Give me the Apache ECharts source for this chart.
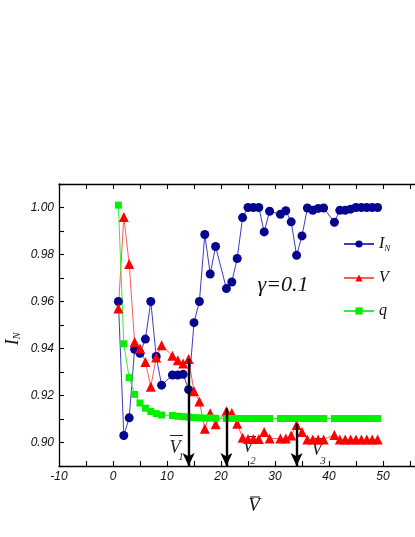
<!DOCTYPE html>
<html><head><meta charset="utf-8">
<script src="https://cdn.jsdelivr.net/npm/echarts@6/dist/echarts.min.js"></script>
<style>html,body{margin:0;padding:0;background:#fff}#c{width:415px;height:537px}</style>
</head><body><div id="c"></div>
<script>
// x positions (V-bar)
const xValues = [1,2,3,4,5,6,7,8,9, 11,12,13,14,15,16,17,18,19, 21,22,23,24,25,26,27,28,29, 31,32,33,34,35,36,37,38,39, 41,42,43,44,45,46,47,48,49];
// I_N series
const iN = [0.960,0.903,0.9105,0.9397,0.938,0.944,0.960,0.9366,0.9244,
            0.9287,0.9287,0.929,0.9225,0.951,0.960,0.9885,0.9717,0.9834,
            0.9655,0.9683,0.9783,0.9957,1.000,1.000,1.000,0.9896,0.9984,
            0.9971,0.9986,0.9939,0.9797,0.9879,0.9998,0.9988,0.9996,0.9998,
            0.9937,0.9988,0.9988,0.9993,1.000,1.000,1.000,1.000,1.000];
// V series
const vVals = [0.957,0.996,0.976,0.9428,0.940,0.9343,0.9237,0.9362,0.9414,
               0.9369,0.935,0.9336,0.9355,0.9218,0.9175,0.9058,0.9125,0.9078,
               0.9133,0.9126,0.908,0.902,0.9015,0.9015,0.9015,0.9045,0.9017,
               0.9017,0.9017,0.903,0.9075,0.9045,0.9013,0.9013,0.9013,0.9013,
               0.9032,0.9013,0.9013,0.9013,0.9013,0.9013,0.9013,0.9013,0.9013];
// q series
const qVals = [1.001,0.942,0.9276,0.9205,0.9168,0.9146,0.9132,0.9123,0.9117,
               0.9115,0.9112,0.911,0.9108,0.9106,0.9105,0.9104,0.9104,0.9103,
               0.9102,0.9102,0.9102,0.9102,0.9102,0.9102,0.9102,0.9102,0.9102,
               0.9102,0.9102,0.9102,0.9102,0.9102,0.9102,0.9102,0.9102,0.9102,
               0.9102,0.9102,0.9102,0.9102,0.9102,0.9102,0.9102,0.9102,0.9102];
const xTickLabels = [-10,0,10,20,30,40,50];
const yTickLabels = ['0.90','0.92','0.94','0.96','0.98','1.00'];
const arrowX = [14,21,34];
const arrowTop = [0.9355,0.9145,0.908];

const pairs = ys => xValues.map((x,i)=>[x, ys[i]]);
const serif = 'Liberation Serif';
const ink = '#111';

const axisLine = {show:true, onZero:false, lineStyle:{color:'#000', width:1.3}};
const axisTick = {show:true, inside:true, length:5, lineStyle:{color:'#000', width:1.1}};

const chart = echarts.init(document.getElementById('c'), null, {renderer:'canvas'});
chart.setOption({
  animation:false,
  backgroundColor:'#fff',
  grid:{left:59, top:184, width:378, height:282, containLabel:false, outerBoundsMode:'none'},
  xAxis:[
    {type:'value', min:-10, max:60, interval:5, position:'bottom', axisLine, axisTick,
     splitLine:{show:false},
     axisLabel:{margin:5, color:ink, fontStyle:'italic', fontFamily:'Liberation Sans', fontSize:12,
       formatter:v => xTickLabels.includes(Math.round(v)) ? String(Math.round(v)) : ''}},
    {type:'value', min:-10, max:60, interval:5, position:'top', axisLine, axisTick,
     splitLine:{show:false}, axisLabel:{show:false}}
  ],
  yAxis:[
    {type:'value', min:0.89, max:1.01, interval:0.01, position:'left', axisLine, axisTick,
     splitLine:{show:false},
     axisLabel:{margin:5, color:ink, fontStyle:'italic', fontFamily:'Liberation Sans', fontSize:12,
       formatter:v => { const s = v.toFixed(2); return yTickLabels.includes(s) ? s : ''; }}}
  ],
  legend:{
    orient:'vertical', left:343, top:236, padding:0, itemWidth:30, itemHeight:9, itemGap:17,
    data:['I_N','V','q'],
    formatter:n => n==='I_N' ? '{i|I}{s|N}' : '{i|'+n+'}',
    textStyle:{rich:{
      i:{fontFamily:serif, fontStyle:'italic', fontSize:16, color:ink},
      s:{fontFamily:serif, fontStyle:'italic', fontSize:9, color:ink, padding:[9,0,0,0]}
    }}
  },
  series:[
    {name:'I_N', type:'line', data:pairs(iN), symbol:'circle', symbolSize:9,
     lineStyle:{color:'#3d3dc4', width:1}, itemStyle:{color:'#050590'}},
    {name:'V', type:'line', data:pairs(vVals), symbol:'triangle', symbolSize:10,
     lineStyle:{color:'#ff5a5a', width:1}, itemStyle:{color:'#ff0000'}},
    {name:'q', type:'line', data:pairs(qVals), symbol:'rect', symbolSize:7,
     lineStyle:{color:'#33ee33', width:1}, itemStyle:{color:'#00f000'}},
    {name:'arrows', type:'line', data:[], z:5,
     markLine:{silent:true, symbol:['none','arrow'], symbolSize:[9,13],
       label:{show:false}, lineStyle:{color:'#000', width:2.4, type:'solid'},
       data: arrowX.map((x,i)=>[{coord:[x, arrowTop[i]]},{coord:[x, 0.89]}])}}
  ],
  graphic:[
    {type:'text', x:283, y:285, style:{text:'γ=0.1', fontFamily:serif, fontStyle:'italic', fontSize:22, fill:ink, align:'center', verticalAlign:'middle'}},
    // y axis name
    {type:'text', x:13, y:339, rotation:Math.PI/2, style:{text:'{a|I}{b|N}', align:'center', verticalAlign:'middle',
      rich:{a:{fontFamily:serif, fontStyle:'italic', fontSize:18, fill:ink}, b:{fontFamily:serif, fontStyle:'italic', fontSize:10, fill:ink, padding:[8,0,0,0]}}}},
    // x axis name
    {type:'text', x:254, y:506, style:{text:'V', fontFamily:serif, fontStyle:'italic', fontSize:19, fill:ink, align:'center', verticalAlign:'middle'}},
    {type:'line', shape:{x1:250, y1:497, x2:260, y2:497}, style:{stroke:ink, lineWidth:1}},
    // V-bar labels
    {type:'text', x:175, y:448, style:{text:'V', fontFamily:serif, fontStyle:'italic', fontSize:18, fill:'#222', align:'center', verticalAlign:'middle'}},
    {type:'line', shape:{x1:170, y1:435.5, x2:183, y2:435.5}, style:{stroke:'#222', lineWidth:1}},
    {type:'text', x:181, y:457, style:{text:'1', fontFamily:serif, fontStyle:'italic', fontSize:11, fill:'#333', align:'center', verticalAlign:'middle'}},
    {type:'text', x:248, y:447, style:{text:'V', fontFamily:serif, fontStyle:'italic', fontSize:18, fill:'#222', align:'center', verticalAlign:'middle'}},
    {type:'line', shape:{x1:247, y1:436.5, x2:256, y2:436.5}, style:{stroke:'#222', lineWidth:1}},
    {type:'text', x:253, y:461, style:{text:'2', fontFamily:serif, fontStyle:'italic', fontSize:11, fill:'#333', align:'center', verticalAlign:'middle'}},
    {type:'text', x:317, y:450, style:{text:'V', fontFamily:serif, fontStyle:'italic', fontSize:18, fill:'#222', align:'center', verticalAlign:'middle'}},
    {type:'line', shape:{x1:315, y1:438.5, x2:325, y2:438.5}, style:{stroke:'#222', lineWidth:1}},
    {type:'text', x:323, y:461, style:{text:'3', fontFamily:serif, fontStyle:'italic', fontSize:11, fill:'#333', align:'center', verticalAlign:'middle'}}
  ]
});
</script></body></html>
